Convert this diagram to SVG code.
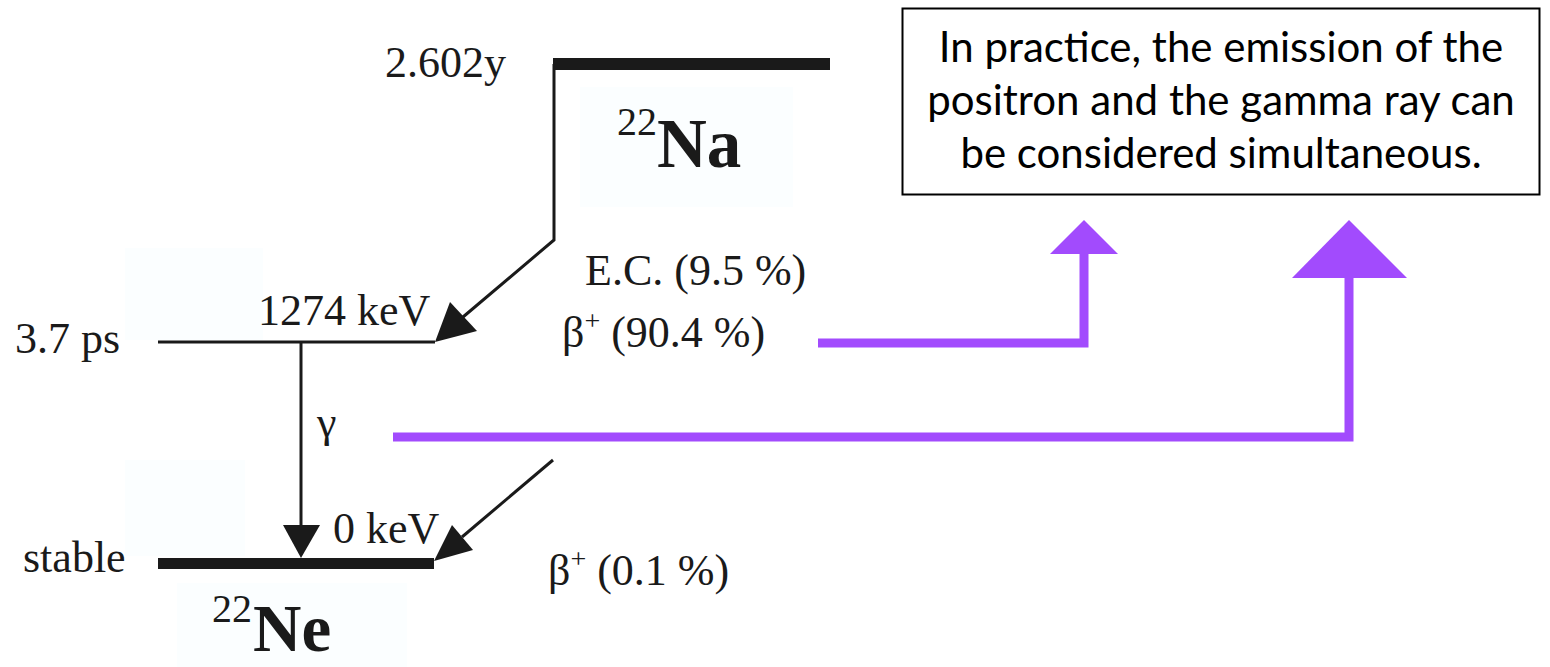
<svg xmlns="http://www.w3.org/2000/svg" width="1550" height="667" viewBox="0 0 1550 667">
  <style>
    .t { font-family: "Liberation Serif", "Times New Roman", serif; font-size: 44px; fill: #1a1a1a; }
    .sup { font-size: 28px; }
    .iso { font-family: "Liberation Serif", "Times New Roman", serif; fill: #1a1a1a; }
    .lvl { stroke: #1a1a1a; fill: none; }
    .ah { fill: #1a1a1a; }
    .pl { stroke: #a24bfd; stroke-width: 9; fill: none; stroke-linejoin: miter; stroke-linecap: butt; }
    .pa { fill: #a24bfd; }
    .note { font-family: "Lato", "Liberation Sans", sans-serif; font-size: 42px; fill: #000; text-anchor: middle; }
    .bg { fill: #fbfeff; }
  </style>

  <!-- faint label backgrounds -->
  <g id="backgrounds">
    <rect class="bg" x="580" y="87" width="213" height="120"/>
    <rect class="bg" x="177" y="583" width="230" height="84"/>
    <rect class="bg" x="125" y="248" width="138" height="92"/>
    <rect class="bg" x="125" y="460" width="120" height="96"/>
  </g>

  <!-- Na-22 ground level -->
  <g id="na22">
    <line class="lvl" x1="553" y1="64" x2="830" y2="64" stroke-width="12"/>
    <text class="t" x="385" y="77">2.602y</text>
    <text class="iso" x="617" y="135" font-size="40">22</text>
    <text class="iso" x="657" y="167" font-size="69" font-weight="bold">Na</text>
  </g>

  <!-- Ne-22 excited level -->
  <g id="ne22-excited">
    <line class="lvl" x1="158" y1="342" x2="435" y2="342" stroke-width="3"/>
    <text class="t" x="15" y="353">3.7 ps</text>
    <text class="t" x="258" y="325">1274 keV</text>
  </g>

  <!-- Ne-22 ground level -->
  <g id="ne22-ground">
    <line class="lvl" x1="158" y1="563.5" x2="434" y2="563.5" stroke-width="11"/>
    <text class="t" x="23" y="572">stable</text>
    <text class="t" x="333" y="543">0 keV</text>
    <text class="iso" x="212" y="622" font-size="40">22</text>
    <text class="iso" x="253" y="651" font-size="67" font-weight="bold">Ne</text>
  </g>

  <!-- decay labels -->
  <g id="labels">
    <text class="t" x="585" y="285">E.C. (9.5 %)</text>
    <text class="t" x="562" y="347">β<tspan class="sup" dy="-17">+</tspan><tspan dy="17"> (90.4 %)</tspan></text>
    <text class="t" x="317" y="437">γ</text>
    <text class="t" x="548" y="585">β<tspan class="sup" dy="-17">+</tspan><tspan dy="17"> (0.1 %)</tspan></text>
  </g>

  <!-- note box -->
  <g id="note">
    <rect x="902.5" y="8.5" width="637" height="186" fill="#fff" stroke="#000" stroke-width="2"/>
    <text class="note" x="1221" y="62">In practice, the emission of the</text>
    <text class="note" x="1221" y="115">positron and the gamma ray can</text>
    <text class="note" x="1221" y="168">be considered simultaneous.</text>
  </g>

  <!-- connectors -->
  <g id="connectors">
    <polyline class="lvl" stroke-width="3" points="554,64 554,240 463,317"/>
    <polygon class="ah" points="435,342 450,302 477,331"/>
    <line class="lvl" stroke-width="3" x1="301" y1="342" x2="301" y2="527"/>
    <polygon class="ah" points="283,525 320,525 301,558"/>
    <line class="lvl" stroke-width="3" x1="553" y1="460" x2="462" y2="537"/>
    <polygon class="ah" points="434,561 452,525 473,550"/>

    <path class="pl" d="M818 343 H1084 V252"/>
    <polygon class="pa" points="1050,254 1118,254 1084,220"/>
    <path class="pl" d="M393 437 H1349 V276"/>
    <polygon class="pa" points="1292,278 1407,278 1349,220"/>
  </g>
</svg>
